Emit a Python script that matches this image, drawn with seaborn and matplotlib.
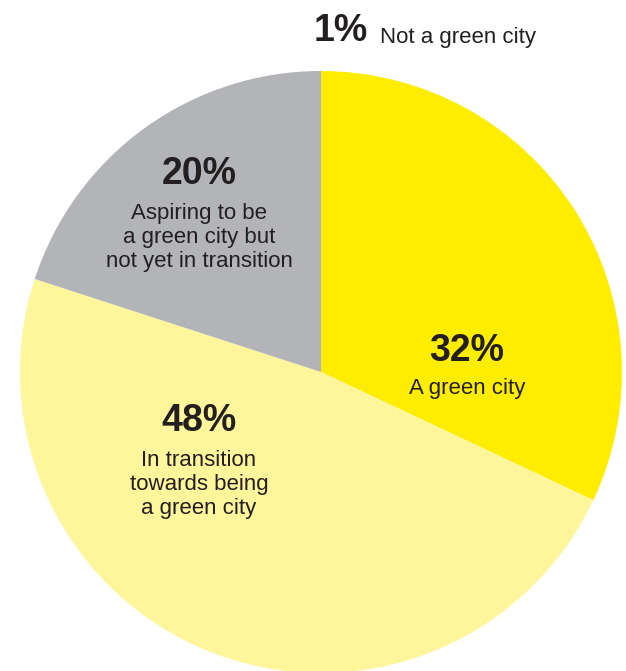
import matplotlib
matplotlib.use("Agg")
import matplotlib.pyplot as plt
from matplotlib import font_manager
import seaborn as sns

# Survey result: how respondents describe their city
categories = ["A green city",
              "In transition\ntowards being\na green city",
              "Aspiring to be\na green city but\nnot yet in transition",
              "Not a green city"]
shares = [32, 48, 20, 1]
slice_colors = ["#FFED00", "#FFF59B", "#B3B4B8"]

sns.set_theme(style="white")
installed = {f.name for f in font_manager.fontManager.ttflist}
body_font = ["Liberation Sans", "DejaVu Sans"]
num_font = ["Liberation Sans Narrow", "Liberation Sans", "DejaVu Sans"]
num_font = [f for f in num_font if f in installed] or ["DejaVu Sans"]
plt.rcParams["font.family"] = body_font
ink = "#231F20"

W, H = 626, 671
fig = plt.figure(figsize=(W / 100, H / 100), dpi=100)
ax = fig.add_axes([0, 0, 1, 1])

cx, cy, r = 321, H - 372, 301

# The three in-circle categories form the pie; the 1% share is listed above it
ax.pie(shares[:3], colors=slice_colors, startangle=90, counterclock=False,
       center=(cx, cy), radius=r, frame=True,
       wedgeprops=dict(linewidth=0))
ax.set_xlim(0, W)
ax.set_ylim(0, H)
ax.set_aspect("equal")
ax.axis("off")

def label(x, y, value, text, gap=29):
    ax.text(x, H - y, f"{value}%", ha="center", va="center",
            fontsize=27, fontweight="bold", family=num_font, color=ink)
    ax.text(x, H - y - gap, text, ha="center", va="top",
            fontsize=16, color=ink, linespacing=1.2)

label(467, 351, shares[0], categories[0], gap=27)
label(199, 421, shares[1], categories[1])
label(199, 174, shares[2], categories[2])

# Small share outside the circle
ax.text(341, H - 31, f"{shares[3]}%", ha="center", va="center",
        fontsize=27, fontweight="bold", family=num_font, color=ink)
ax.text(380, H - 37, categories[3], ha="left", va="center",
        fontsize=16, color=ink)

fig.savefig("out.png", dpi=100, facecolor="white")
